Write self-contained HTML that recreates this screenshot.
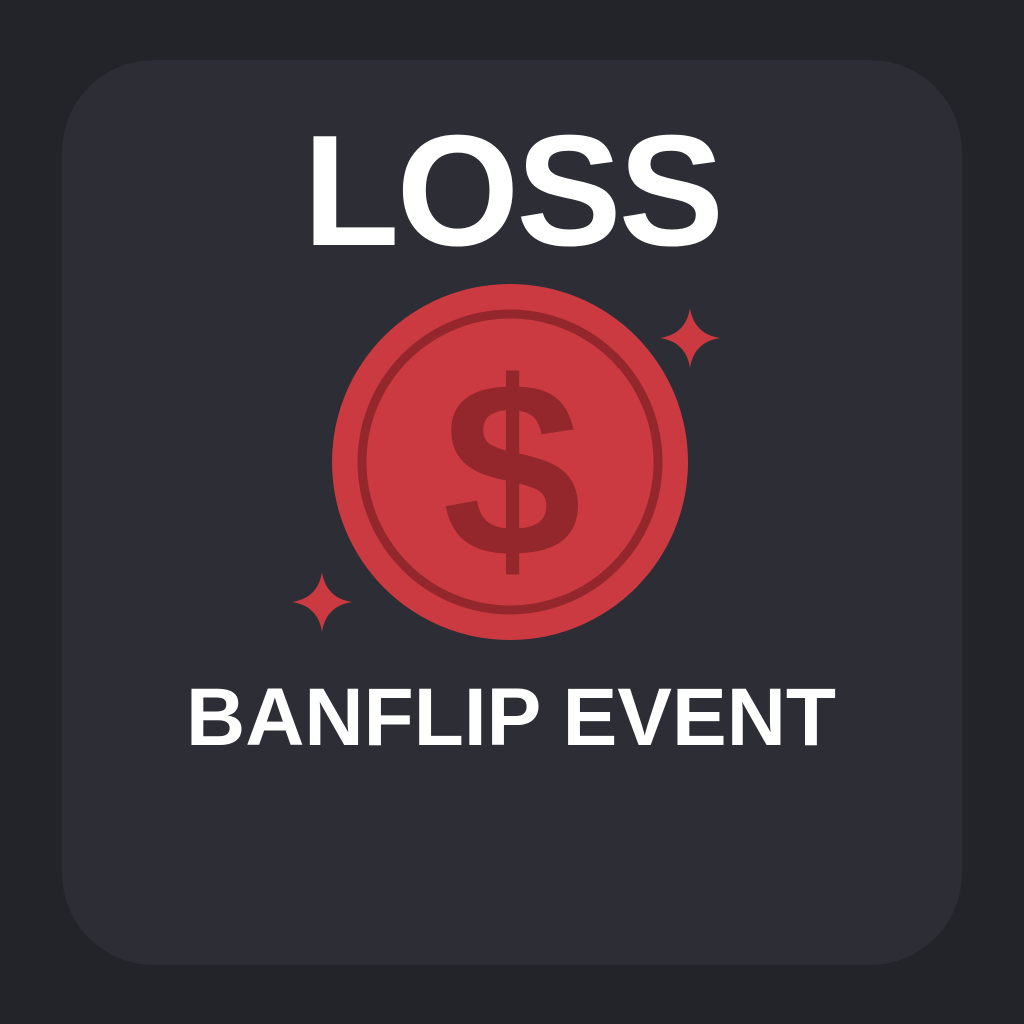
<!DOCTYPE html>
<html><head><meta charset="utf-8"><style>
html,body{margin:0;padding:0;background:#232429;width:1024px;height:1024px;overflow:hidden}
#card{position:absolute;left:62px;top:60px;width:900px;height:905px;border-radius:92px;background:#2c2d35}
.t{position:absolute;left:0;width:1024px;text-align:center;color:#fff;font-family:"Liberation Sans",sans-serif;font-weight:bold}
</style></head><body>
<div id="card"></div>
<div class="t" style="top:106px;font-size:158px;line-height:170px;letter-spacing:-3px">LOSS</div>
<svg width="1024" height="1024" style="position:absolute;left:0;top:0">
<circle cx="510" cy="462" r="178" fill="#cc3a41"/>
<circle cx="510" cy="462" r="148" fill="none" stroke="#93272c" stroke-width="9"/>
<text x="512" y="556" text-anchor="middle" font-family="Liberation Sans, sans-serif" font-weight="bold" font-size="250" fill="#93272c">$</text>
<path d="M690 308 Q694 334 720 338 Q694 342 690 368 Q686 342 660 338 Q686 334 690 308Z" fill="#cc3a41"/>
<path d="M322 572 Q326 598 352 602 Q326 606 322 632 Q318 606 292 602 Q318 598 322 572Z" fill="#cc3a41"/>
</svg>
<div class="t" style="top:672px;font-size:82px;line-height:92px;left:-1px">BANFLIP EVENT</div>
</body></html>
